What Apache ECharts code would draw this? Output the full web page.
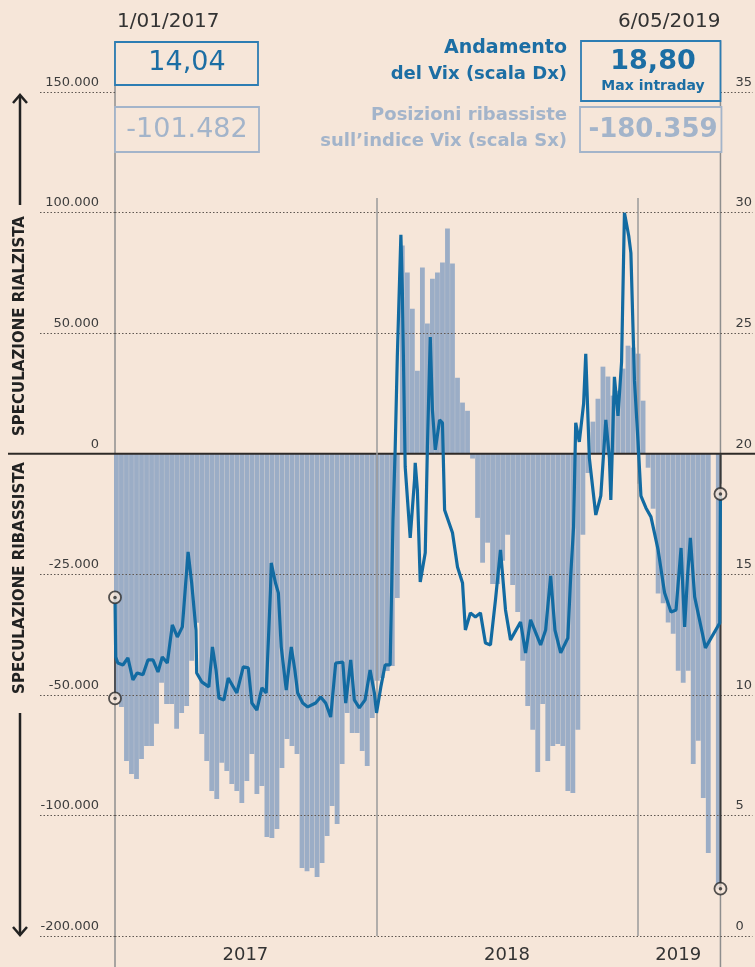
<!DOCTYPE html>
<html><head><meta charset="utf-8">
<script src="https://cdn.jsdelivr.net/npm/echarts@6/dist/echarts.min.js"></script>
<style>html,body{margin:0;padding:0;background:#f6e6d9;}#c{width:755px;height:967px;}</style>
</head><body><div id="c"></div>
<script>
// ---------- DATA ----------
const weeks2017 = ['2017-01-03','2017-01-10','2017-01-17','2017-01-24','2017-01-31','2017-02-07','2017-02-14','2017-02-21','2017-02-28','2017-03-07','2017-03-14','2017-03-21','2017-03-28','2017-04-04','2017-04-11','2017-04-18','2017-04-25','2017-05-02','2017-05-09','2017-05-16','2017-05-23','2017-05-30','2017-06-06','2017-06-13','2017-06-20','2017-06-27','2017-07-04','2017-07-11','2017-07-18','2017-07-25','2017-08-01','2017-08-08','2017-08-15','2017-08-22','2017-08-29','2017-09-05','2017-09-12','2017-09-19','2017-09-26','2017-10-03','2017-10-10','2017-10-17','2017-10-24','2017-10-31','2017-11-07','2017-11-14','2017-11-21','2017-11-28','2017-12-05','2017-12-12','2017-12-19','2017-12-26'];
const short2017 = [-101482,-105000,-127400,-132800,-134900,-126600,-121200,-121200,-112000,-95000,-103800,-103800,-114100,-107500,-104600,-85900,-70100,-116200,-127400,-139900,-143200,-128200,-131600,-137000,-139900,-144800,-135700,-124500,-141100,-137800,-158900,-159400,-155600,-130300,-118300,-121200,-124500,-171800,-173100,-171800,-175500,-169700,-158500,-146100,-153600,-128700,-107500,-115800,-115800,-123300,-129500,-109600];
const weeks2018 = ['2018-01-02','2018-01-09','2018-01-16','2018-01-23','2018-01-30','2018-02-06','2018-02-13','2018-02-20','2018-02-27','2018-03-06','2018-03-13','2018-03-20','2018-03-27','2018-04-03','2018-04-10','2018-04-17','2018-04-24','2018-05-01','2018-05-08','2018-05-15','2018-05-22','2018-05-29','2018-06-05','2018-06-12','2018-06-19','2018-06-26','2018-07-03','2018-07-10','2018-07-17','2018-07-24','2018-07-31','2018-08-07','2018-08-14','2018-08-21','2018-08-28','2018-09-04','2018-09-11','2018-09-18','2018-09-25','2018-10-02','2018-10-09','2018-10-16','2018-10-23','2018-10-30','2018-11-06','2018-11-13','2018-11-20','2018-11-27','2018-12-04','2018-12-11','2018-12-18','2018-12-25'];
const short2018 = [-94200,-93000,-90100,-88000,-59800,86300,75100,60100,34400,77200,54000,72600,75100,79300,93400,78900,31500,21200,17800,-2000,-26600,-45200,-36900,-54000,-54000,-44400,-33600,-54400,-65600,-85900,-104600,-114500,-132000,-103800,-127400,-121200,-120400,-121200,-139900,-140700,-114500,-33600,-8000,13300,22800,36100,32000,24100,26100,35300,44800,44000];
const weeks2019 = ['2019-01-01','2019-01-08','2019-01-15','2019-01-22','2019-01-29','2019-02-05','2019-02-12','2019-02-19','2019-02-26','2019-03-05','2019-03-12','2019-03-19','2019-03-26','2019-04-02','2019-04-09','2019-04-16','2019-04-23'];
const short2019 = [41500,22000,-5800,-22800,-58000,-62000,-70000,-74700,-90000,-95000,-90000,-128700,-119000,-142800,-165600,null,-180359];

const vixDates = ['2017-01-01','2017-01-02','2017-01-05','2017-01-12','2017-01-19','2017-01-26','2017-02-01','2017-02-09','2017-02-16','2017-02-23','2017-03-02','2017-03-08','2017-03-15','2017-03-22','2017-03-29','2017-04-05','2017-04-13','2017-04-18','2017-04-24','2017-04-25','2017-05-02','2017-05-12','2017-05-17','2017-05-22','2017-05-26','2017-06-02','2017-06-08','2017-06-20','2017-06-29','2017-07-06','2017-07-11','2017-07-18','2017-07-25','2017-07-31','2017-08-06','2017-08-07','2017-08-13','2017-08-17','2017-08-21','2017-08-28','2017-09-04','2017-09-09','2017-09-13','2017-09-20','2017-09-27','2017-10-08','2017-10-15','2017-10-22','2017-10-29','2017-11-05','2017-11-15','2017-11-19','2017-11-26','2017-12-01','2017-12-08','2017-12-16','2017-12-23','2017-12-29','2018-01-01','2018-01-07','2018-01-13','2018-01-20','2018-01-24','2018-01-27','2018-01-30','2018-02-04','2018-02-06','2018-02-09','2018-02-10','2018-02-17','2018-02-23','2018-02-24','2018-02-27','2018-03-03','2018-03-10','2018-03-13','2018-03-17','2018-03-20','2018-03-24','2018-03-30','2018-04-03','2018-04-06','2018-04-17','2018-04-24','2018-05-01','2018-05-05','2018-05-12','2018-05-19','2018-05-26','2018-06-02','2018-06-09','2018-06-16','2018-06-23','2018-06-30','2018-07-07','2018-07-21','2018-07-28','2018-08-04','2018-08-18','2018-08-25','2018-09-01','2018-09-07','2018-09-15','2018-09-25','2018-09-29','2018-10-03','2018-10-06','2018-10-11','2018-10-17','2018-10-20','2018-10-25','2018-11-03','2018-11-10','2018-11-17','2018-11-22','2018-11-24','2018-11-29','2018-12-04','2018-12-09','2018-12-13','2018-12-19','2018-12-22','2018-12-27','2019-01-01','2019-01-05','2019-01-12','2019-01-19','2019-01-29','2019-02-07','2019-02-16','2019-02-23','2019-03-02','2019-03-07','2019-03-11','2019-03-15','2019-03-21','2019-04-05','2019-04-25','2019-04-26'];
const vixValues = [14.04,11.57,11.32,11.24,11.53,10.62,10.91,10.83,11.45,11.45,10.95,11.57,11.32,12.90,12.40,12.82,15.93,14.64,12.69,10.91,10.54,10.33,11.99,11.03,9.87,9.79,10.70,10.08,11.16,11.12,9.66,9.37,10.29,10.08,14.35,15.47,14.64,14.23,11.99,10.20,11.99,11.03,10.08,9.66,9.50,9.66,9.91,9.66,9.08,11.32,11.36,9.66,11.45,9.79,9.46,9.79,11.03,10.08,9.25,10.33,11.24,11.24,17.25,20.16,24.01,29.08,26.79,21.28,19.45,16.51,18.91,19.62,18.50,14.68,15.89,20.28,24.84,21.82,20.16,21.40,21.28,17.67,16.72,15.30,14.64,12.69,13.40,13.23,13.40,12.15,12.07,13.94,16.01,13.52,12.28,13.02,11.74,13.11,12.07,12.69,14.93,12.69,11.74,12.36,14.93,16.96,21.28,20.49,22.07,24.14,19.83,17.46,18.25,21.40,19.83,18.08,23.19,21.57,23.81,29.99,29.03,28.33,23.02,20.49,18.25,17.75,17.38,16.01,14.23,13.44,13.52,16.09,12.82,14.89,16.51,14.06,11.95,12.98,18.33];

const leftTickValues = [-200000,-150000,-100000,-50000,0,50000,100000,150000];
const leftTickLabels = ['-200.000','-100.000','-50.000','-25.000','0','50.000','100.000','150.000'];
const yearLabels = ['2017','2018','2019'];
const yearLabelDates = ['2017-07-02','2018-07-02','2019-02-26'];
const yearBounds = ['2017-01-01','2018-01-01','2019-01-01','2019-04-26'];
const startDate = '2017-01-01', endDate = '2019-04-26';
const headerStart = '1/01/2017', headerEnd = '6/05/2019';
const vixStartLabel = '14,04', vixEndLabel = '18,80', vixEndNote = 'Max intraday';
const shortStartLabel = '-101.482', shortEndLabel = '-180.359';
const legendVix = ['Andamento', 'del Vix (scala Dx)'];
const legendShort = ['Posizioni ribassiste', 'sull\u2019indice Vix (scala Sx)'];
const sideUp = 'SPECULAZIONE RIALZISTA', sideDown = 'SPECULAZIONE RIBASSISTA';

// ---------- BUILD ----------
const ts = s => Date.parse(s + 'T00:00:00Z');
const weeks = weeks2017.concat(weeks2018, weeks2019);
const shorts = short2017.concat(short2018, short2019);
const barData = weeks.map((d, i) => [ts(d), shorts[i]]);
const vixData = vixDates.map((d, i) => [ts(d), vixValues[i]]);
const firstShort = shorts[0];
const lastShort = shorts[shorts.length - 1];
const firstVix = vixValues[0];
const lastVix = vixValues[vixValues.length - 1];
const T0 = ts(startDate), T1 = ts(endDate);

const BG = '#f6e6d9', BLUE = '#1c6ea4', GREYBLUE = '#a3b4ca', BAR = '#9badc6', GRID = '#5f5751';
const NUMFONT = '"DejaVu Sans", sans-serif';

const chart = echarts.init(document.getElementById('c'));
chart.setOption({
  backgroundColor: BG,
  animation: false,
  grid: { left: 115, right: 32, top: 92, bottom: 31 },
  xAxis: {
    type: 'value', min: T0, max: T1, scale: true,
    axisLine: { show: false }, splitLine: { show: false },
    axisTick: { show: true, customValues: yearBounds.map(ts), length: 30, lineStyle: { color: '#9a9a9a', width: 1.5 } },
    axisLabel: {
      customValues: yearLabelDates.map(ts), margin: 10,
      color: '#333', fontSize: 18, fontFamily: NUMFONT,
      formatter: v => { const y = String(new Date(v).getUTCFullYear()); return yearLabels.indexOf(y) >= 0 ? y : ''; }
    }
  },
  yAxis: [
    {
      type: 'value', min: -200000, max: 150000, interval: 50000, position: 'left', z: 3,
      axisLine: { show: false },
      axisTick: { show: true, length: 75, lineStyle: { color: GRID, type: [1.5, 2], width: 1 } },
      splitLine: { show: true, showMaxLine: false, lineStyle: { color: GRID, type: [1.5, 2], width: 1 } },
      axisLabel: { margin: 16, verticalAlign: 'bottom', padding: [0, 0, 3, 0], color: '#3d3d3d', fontSize: 13, fontFamily: NUMFONT,
        formatter: v => { const i = leftTickValues.indexOf(v); return i >= 0 ? leftTickLabels[i] : ''; } }
    },
    {
      type: 'value', min: 0, max: 35, interval: 5, position: 'right', z: 3,
      axisLine: { show: false },
      axisTick: { show: true, length: 32, lineStyle: { color: GRID, type: [1.5, 2], width: 1 } },
      splitLine: { show: false },
      axisLabel: { margin: 15, verticalAlign: 'bottom', padding: [0, 0, 3, 0], color: '#3d3d3d', fontSize: 13, fontFamily: NUMFONT }
    }
  ],
  series: [
    {
      type: 'bar', name: 'Posizioni ribassiste', yAxisIndex: 0, data: barData, barWidth: 4.8, z: 2, silent: true,
      itemStyle: { color: BAR },
      markLine: {
        silent: true, symbol: ['none', 'none'], label: { show: false },
        lineStyle: { color: '#9a9a9a', width: 1.5, type: 'solid' },
        data: [
          [{ coord: [ts(yearBounds[1]), 106000] }, { coord: [ts(yearBounds[1]), -200000] }],
          [{ coord: [ts(yearBounds[2]), 106000] }, { coord: [ts(yearBounds[2]), -200000] }]
        ]
      }
    },
    {
      type: 'line', name: 'Vix', yAxisIndex: 1, data: vixData, showSymbol: false, z: 5, silent: true,
      lineStyle: { color: '#126ba2', width: 3.2 }, itemStyle: { color: '#126ba2' }
    },
    {
      type: 'scatter', yAxisIndex: 0, z: 7, silent: true, symbol: 'circle', symbolSize: 12,
      itemStyle: { color: BG, borderColor: '#2b2b2b', borderWidth: 1.8 },
      data: [[T0, firstShort], [T1, lastShort]]
    },
    {
      type: 'scatter', yAxisIndex: 1, z: 7, silent: true, symbol: 'circle', symbolSize: 12,
      itemStyle: { color: BG, borderColor: '#2b2b2b', borderWidth: 1.8 },
      data: [[T0, firstVix], [T1, lastVix]]
    },
    {
      type: 'scatter', yAxisIndex: 0, z: 8, silent: true, symbol: 'circle', symbolSize: 3.5,
      itemStyle: { color: '#2b2b2b' }, data: [[T0, firstShort], [T1, lastShort]]
    },
    {
      type: 'scatter', yAxisIndex: 1, z: 8, silent: true, symbol: 'circle', symbolSize: 3.5,
      itemStyle: { color: '#2b2b2b' }, data: [[T0, firstVix], [T1, lastVix]]
    }
  ]
});

// ---------- DECORATIONS (positions from the chart's own scales) ----------
const pS0 = chart.convertToPixel({ seriesIndex: 0 }, [T0, 0]);
const pE0 = chart.convertToPixel({ seriesIndex: 0 }, [T1, 0]);
const pSshort = chart.convertToPixel({ seriesIndex: 0 }, [T0, firstShort]);
const pEshort = chart.convertToPixel({ seriesIndex: 0 }, [T1, lastShort]);
const pSvix = chart.convertToPixel({ seriesIndex: 1 }, [T0, firstVix]);
const xs = pS0[0], xe = pE0[0], y0 = pS0[1];

function txt(x, y, text, font, fill, align, rot) {
  return { type: 'text', x: x, y: y, rotation: rot || 0, z: 20,
    style: { text: text, font: font, fill: fill, textAlign: align || 'left', textVerticalAlign: 'middle' } };
}
function box(x, y, w, h, stroke) {
  return { type: 'rect', z: 15, shape: { x: x, y: y, width: w, height: h }, style: { fill: BG, stroke: stroke, lineWidth: 1.8 } };
}
const g = [
  { type: 'line', z: 1, shape: { x1: xs, y1: 42, x2: xs, y2: 967 }, style: { stroke: '#8e8e8e', lineWidth: 1.5 } },
  { type: 'line', z: 1, shape: { x1: xe, y1: 41, x2: xe, y2: 967 }, style: { stroke: '#8e8e8e', lineWidth: 1.5 } },
  { type: 'line', z: 4, shape: { x1: 8, y1: y0, x2: 755, y2: y0 }, style: { stroke: '#2e2a27', lineWidth: 2 } },
  { type: 'line', z: 4, shape: { x1: xs, y1: pSvix[1], x2: xs, y2: pSshort[1] }, style: { stroke: '#3a3a3a', lineWidth: 1.6 } },
  { type: 'line', z: 4, shape: { x1: xe, y1: y0, x2: xe, y2: pEshort[1] }, style: { stroke: '#3a3a3a', lineWidth: 2 } },
  box(xs, 42, 143, 43, '#2d7db3'),
  box(xs, 107, 144, 45, GREYBLUE),
  box(581, 41, xe - 581, 60, '#2d7db3'),
  box(580, 107, xe - 580 + 1, 45, GREYBLUE),
  txt(117, 22, headerStart, '20px ' + NUMFONT, '#333', 'left'),
  txt(xe, 22, headerEnd, '20px ' + NUMFONT, '#333', 'right'),
  txt(187, 63, vixStartLabel, '27px ' + NUMFONT, BLUE, 'center'),
  txt(187, 130, shortStartLabel, '27px ' + NUMFONT, GREYBLUE, 'center'),
  txt(653, 62, vixEndLabel, 'bold 27px ' + NUMFONT, BLUE, 'center'),
  txt(653, 86, vixEndNote, 'bold 14px ' + NUMFONT, BLUE, 'center'),
  txt(653, 130, shortEndLabel, 'bold 26px ' + NUMFONT, GREYBLUE, 'center'),
  txt(567, 48, legendVix[0], 'bold 19px ' + NUMFONT, BLUE, 'right'),
  txt(567, 74, legendVix[1], 'bold 18px ' + NUMFONT, BLUE, 'right'),
  txt(567, 115, legendShort[0], 'bold 18px ' + NUMFONT, GREYBLUE, 'right'),
  txt(567, 141, legendShort[1], 'bold 18px ' + NUMFONT, GREYBLUE, 'right'),
  txt(20, 326, sideUp, 'bold 15px ' + NUMFONT, '#222', 'center', Math.PI / 2),
  txt(20, 578, sideDown, 'bold 15px ' + NUMFONT, '#222', 'center', Math.PI / 2),
  { type: 'polyline', z: 20, shape: { points: [[20, 205], [20, 95]] }, style: { stroke: '#222', lineWidth: 2.5, fill: null } },
  { type: 'polyline', z: 20, shape: { points: [[13, 103], [20, 95], [27, 103]] }, style: { stroke: '#222', lineWidth: 2.5, fill: null } },
  { type: 'polyline', z: 20, shape: { points: [[20, 713], [20, 935]] }, style: { stroke: '#222', lineWidth: 2.5, fill: null } },
  { type: 'polyline', z: 20, shape: { points: [[13, 927], [20, 935], [27, 927]] }, style: { stroke: '#222', lineWidth: 2.5, fill: null } }
];
chart.setOption({ graphic: g });
</script>
</body></html>
